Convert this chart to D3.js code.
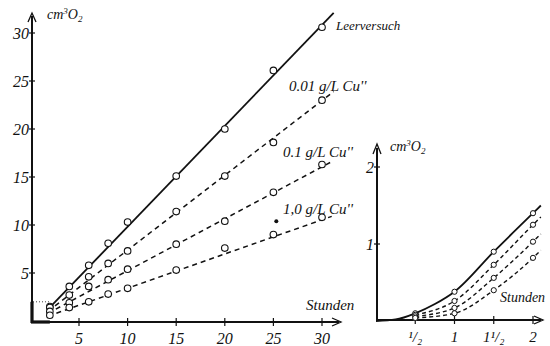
<!DOCTYPE html>
<html><head><meta charset="utf-8">
<script src="https://cdn.jsdelivr.net/npm/d3@7"></script>
<style>
html,body{margin:0;padding:0;background:#fff;}
svg{display:block;}
text{font-family:"Liberation Serif","DejaVu Serif",serif;font-style:italic;fill:#111;}
</style></head>
<body>
<svg id="c" width="550" height="346"></svg>
<script>
// ---- Data: left panel (0-30 hours) ----
const hours = [2, 4, 6, 8, 10, 15, 20, 25, 30];
const leer   = [1.5, 3.6, 5.8, 8.1, 10.3, 15.1, 20.0, 26.1, 30.6];
const cu001  = [1.4, 2.7, 4.6, 6.0, 7.3, 11.4, 15.1, 18.6, 23.0];
const cu01   = [1.0, 1.9, 3.6, 4.3, 5.4, 8.0, 10.4, 13.4, 16.3];
const cu10   = [0.6, 1.4, 2.0, 2.8, 3.4, 5.3, 7.6, 9.0, 10.8];
const extraDot = [25.3, 10.4];
// fitted straight lines (start, end)
const leerFit  = [[1.8, 1.2], [31.2, 32.1]];
const cu001Fit = [[1.8, 1.0], [31.2, 23.9]];
const cu01Fit  = [[1.8, 0.8], [31.0, 16.6]];
const cu10Fit  = [[1.8, 0.5], [31.0, 10.9]];
const seriesLabels = ["Leerversuch", "0.01 g/L Cu''", "0.1 g/L Cu''", "1,0 g/L Cu''"];
const leftXTicks = [5, 10, 15, 20, 25, 30];
const leftYTicks = [5, 10, 15, 20, 25, 30];

// ---- Data: right panel (0-2 hours) ----
const rHours = [0.5, 1, 1.5, 2];
const rLeer  = [0.10, 0.38, 0.90, 1.40];
const r001   = [0.08, 0.26, 0.73, 1.25];
const r01    = [0.06, 0.17, 0.56, 1.03];
const r10    = [0.04, 0.10, 0.40, 0.82];
const rLeerCurve = [[0,0],[0.25,0.02],[0.5,0.10],[0.75,0.22],[1,0.38],[1.5,0.90],[2,1.40],[2.1,1.50]];
const r001Curve  = [[0.5,0.08],[1,0.26],[1.5,0.73],[2,1.25],[2.1,1.35]];
const r01Curve   = [[0.5,0.06],[1,0.17],[1.5,0.56],[2,1.03],[2.1,1.13]];
const r10Curve   = [[0.5,0.04],[1,0.10],[1.5,0.40],[2,0.82],[2.1,0.92]];
const rightXTicks = [0.5, 1, 1.5, 2];
const rightXLabels = ["¹/₂", "1", "1¹/₂", "2"];
const rightYTicks = [1, 2];

const svg = d3.select("#c");
const ink = "#111";

// ---------- LEFT PANEL ----------
const x = d3.scaleLinear().domain([0, 30]).range([30.4, 322]);
const y = d3.scaleLinear().domain([0, 30]).range([321, 33]);
const L = svg.append("g");

// axes
L.append("line").attr("x1", 32).attr("y1", 322).attr("x2", 32).attr("y2", 16)
  .attr("stroke", ink).attr("stroke-width", 2);
L.append("line").attr("x1", 31).attr("y1", 322).attr("x2", 339).attr("y2", 322)
  .attr("stroke", ink).attr("stroke-width", 2);
// thick corner (magnified region)
L.append("line").attr("x1", 32).attr("y1", y(2)).attr("x2", 32).attr("y2", 323)
  .attr("stroke", ink).attr("stroke-width", 3.2);
L.append("line").attr("x1", 31).attr("y1", 322).attr("x2", x(2)).attr("y2", 322)
  .attr("stroke", ink).attr("stroke-width", 3.2);
L.append("line").attr("x1", 33).attr("y1", y(2)).attr("x2", x(2)).attr("y2", y(2))
  .attr("stroke", ink).attr("stroke-width", 0.8).attr("stroke-dasharray", "1,2");
// arrowheads
L.append("path").attr("d", "M28,22 L32,13 L36,22").attr("fill", "none").attr("stroke", ink).attr("stroke-width", 1.3);
L.append("path").attr("d", "M332,318 L341,322 L332,326").attr("fill", "none").attr("stroke", ink).attr("stroke-width", 1.3);

// y ticks
L.selectAll(".yt").data(leftYTicks).enter().append("line")
  .attr("x1", 29).attr("x2", 35).attr("y1", d => y(d)).attr("y2", d => y(d))
  .attr("stroke", ink).attr("stroke-width", 1.2);
L.selectAll(".yl").data(leftYTicks).enter().append("text")
  .attr("x", 29).attr("y", d => y(d) + 5.5).attr("text-anchor", "end")
  .attr("font-size", 16).text(d => d);
// x ticks
L.selectAll(".xt").data(leftXTicks).enter().append("line")
  .attr("y1", 318).attr("y2", 326).attr("x1", d => x(d)).attr("x2", d => x(d))
  .attr("stroke", ink).attr("stroke-width", 1.2);
L.selectAll(".xl").data(leftXTicks).enter().append("text")
  .attr("x", d => x(d)).attr("y", 344).attr("text-anchor", "middle")
  .attr("font-size", 16).text(d => d);

// axis titles
const t1 = L.append("text").attr("x", 47).attr("y", 19).attr("font-size", 14);
t1.append("tspan").text("cm");
t1.append("tspan").attr("font-size", 9).attr("dy", -5).text("3");
t1.append("tspan").attr("dy", 5).text("O");
t1.append("tspan").attr("font-size", 9).attr("dy", 3).text("2");
L.append("text").attr("x", 306).attr("y", 310).attr("font-size", 15).text("Stunden");

// fitted lines
const lineGen = d3.line().x(d => x(d[0])).y(d => y(d[1]));
const fits = [leerFit, cu001Fit, cu01Fit, cu10Fit];
fits.forEach((f, i) => {
  L.append("path").attr("d", lineGen(f)).attr("fill", "none").attr("stroke", ink)
    .attr("stroke-width", i === 0 ? 1.8 : 1.5)
    .attr("stroke-dasharray", i === 0 ? null : "5,4");
});
// points
[leer, cu001, cu01, cu10].forEach(vals => {
  L.selectAll(null).data(vals).enter().append("circle")
    .attr("cx", (d, i) => x(hours[i])).attr("cy", d => y(d)).attr("r", 3.3)
    .attr("fill", "#fff").attr("stroke", ink).attr("stroke-width", 1.1);
});
L.append("circle").attr("cx", x(extraDot[0])).attr("cy", y(extraDot[1])).attr("r", 2)
  .attr("fill", ink);

// series labels
const labelPos = [[336, 30], [289, 91], [283, 157], [283, 214]];
seriesLabels.forEach((s, i) => {
  L.append("text").attr("x", labelPos[i][0]).attr("y", labelPos[i][1])
    .attr("font-size", i === 0 ? 13 : 15).text(s);
});

// ---------- RIGHT PANEL ----------
const rx = d3.scaleLinear().domain([0, 2]).range([376, 533]);
const ry = d3.scaleLinear().domain([0, 2]).range([321, 167]);
const R = svg.append("g");
R.append("line").attr("x1", 377).attr("y1", 321).attr("x2", 377).attr("y2", 148)
  .attr("stroke", ink).attr("stroke-width", 2);
R.append("line").attr("x1", 376).attr("y1", 320).attr("x2", 541).attr("y2", 320)
  .attr("stroke", ink).attr("stroke-width", 2);
R.append("path").attr("d", "M373,154 L377,144 L381,154").attr("fill", "none").attr("stroke", ink).attr("stroke-width", 1.3);
R.append("path").attr("d", "M534,316 L543,320 L534,324").attr("fill", "none").attr("stroke", ink).attr("stroke-width", 1.3);

R.selectAll(".yt").data(rightYTicks).enter().append("line")
  .attr("x1", 374).attr("x2", 380).attr("y1", d => ry(d)).attr("y2", d => ry(d))
  .attr("stroke", ink).attr("stroke-width", 1.2);
R.selectAll(".yl").data(rightYTicks).enter().append("text")
  .attr("x", 374).attr("y", d => ry(d) + 5.5).attr("text-anchor", "end")
  .attr("font-size", 16).text(d => d);
R.selectAll(".xt").data(rightXTicks).enter().append("line")
  .attr("y1", 316).attr("y2", 324).attr("x1", d => rx(d)).attr("x2", d => rx(d))
  .attr("stroke", ink).attr("stroke-width", 1.2);
R.selectAll(".xl").data(rightXTicks).enter().append("text")
  .attr("x", d => rx(d)).attr("y", 342).attr("text-anchor", "middle")
  .attr("font-size", 15).text((d, i) => rightXLabels[i]);

const t2 = R.append("text").attr("x", 390).attr("y", 151).attr("font-size", 14);
t2.append("tspan").text("cm");
t2.append("tspan").attr("font-size", 9).attr("dy", -5).text("3");
t2.append("tspan").attr("dy", 5).text("O");
t2.append("tspan").attr("font-size", 9).attr("dy", 3).text("2");
R.append("text").attr("x", 500).attr("y", 302).attr("font-size", 14).text("Stunden");

const curveGen = d3.line().x(d => rx(d[0])).y(d => ry(d[1])).curve(d3.curveMonotoneX);
[rLeerCurve, r001Curve, r01Curve, r10Curve].forEach((c, i) => {
  R.append("path").attr("d", curveGen(c)).attr("fill", "none").attr("stroke", ink)
    .attr("stroke-width", i === 0 ? 1.8 : 1.4)
    .attr("stroke-dasharray", i === 0 ? null : "4,3");
});
[rLeer, r001, r01, r10].forEach(vals => {
  R.selectAll(null).data(vals).enter().append("circle")
    .attr("cx", (d, i) => rx(rHours[i])).attr("cy", d => ry(d)).attr("r", 2.6)
    .attr("fill", "#fff").attr("stroke", ink).attr("stroke-width", 1);
});
</script>
</body></html>
